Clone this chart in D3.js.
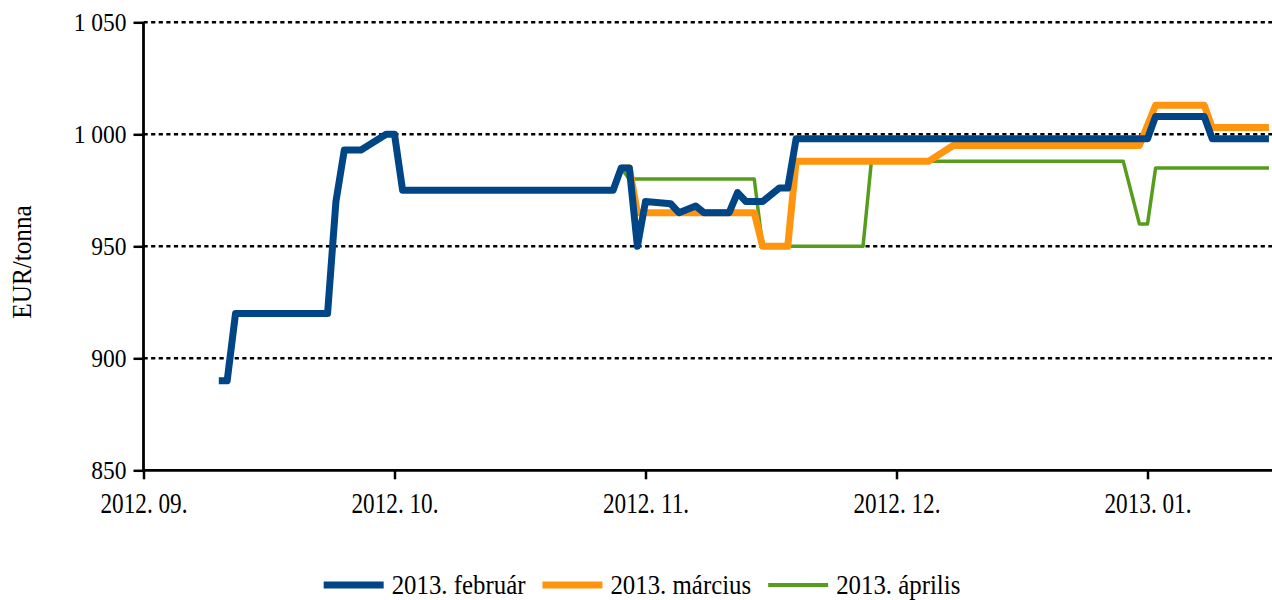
<!DOCTYPE html>
<html>
<head>
<meta charset="utf-8">
<script src="https://cdn.jsdelivr.net/npm/d3@7"></script>
<style>
  html, body { margin: 0; padding: 0; background: #fff; }
  svg { display: block; }
  text { font-family: "Liberation Serif", "Times New Roman", serif; fill: #000; }
</style>
</head>
<body>
<svg id="chart" width="1272" height="600"></svg>
<script>
// Price quotes (EUR/tonna) for three delivery months, by trading date
const febDates = ["2012-09-10","2012-09-11","2012-09-12","2012-09-23","2012-09-24","2012-09-25","2012-09-27","2012-09-30","2012-10-01","2012-10-02","2012-10-28","2012-10-29","2012-10-30","2012-10-31","2012-11-01","2012-11-04","2012-11-05","2012-11-07","2012-11-08","2012-11-11","2012-11-12","2012-11-13","2012-11-15","2012-11-17","2012-11-18","2012-11-19","2013-01-01","2013-01-02","2013-01-08","2013-01-09","2013-01-16"];
const febValues = [890,890,920,920,970,993,993,1000,1000,975,975,985,985,950,970,969,965,968,965,965,974,970,970,976,976,998,998,1008,1008,998,998];

const marDates = ["2012-10-29","2012-10-30","2012-10-31","2012-11-14","2012-11-15","2012-11-18","2012-11-19","2012-12-05","2012-12-08","2012-12-31","2013-01-02","2013-01-08","2013-01-09","2013-01-16"];
const marValues = [985,985,965,965,950,950,988,988,995,995,1013,1013,1003,1003];

const aprDates = ["2012-10-29","2012-10-30","2012-11-14","2012-11-15","2012-11-27","2012-11-28","2012-12-29","2012-12-31","2013-01-01","2013-01-02","2013-01-16"];
const aprValues = [985,980,980,950,950,988,988,960,960,985,985];

const seriesNames = ["2013. február", "2013. március", "2013. április"];
const seriesColors = ["#004586", "#ff950e", "#579d1c"];
const seriesWidths = [7, 7, 3.5];

const monthTicks = ["2012-09-01","2012-10-01","2012-11-01","2012-12-01","2013-01-01"];
const yTicks = [850, 900, 950, 1000, 1050];
const yTitle = "EUR/tonna";

const parse = d3.timeParse("%Y-%m-%d");
const seriesData = [
  d3.zip(febDates, febValues),
  d3.zip(marDates, marValues),
  d3.zip(aprDates, aprValues)
].map(s => s.map(([d, v]) => ({ date: parse(d), value: v })));

const svg = d3.select("#chart");
const W = 1272, H = 600;
const plot = { left: 143.5, right: 1272, top: 22.3, bottom: 470.3 };

// Each month gets the same width on the time axis
const monthStarts = monthTicks.map(parse).concat([parse("2013-02-01")]);
const monthWidth = 251;
const x = d3.scaleTime()
  .domain(monthStarts)
  .range(monthStarts.map((_, i) => plot.left + i * monthWidth));

const y = d3.scaleLinear().domain([850, 1050]).range([plot.bottom, plot.top]);

const fmtY = d3.formatLocale({ decimal: ",", thousands: " ", grouping: [3], currency: ["", ""] }).format(",d");
const fmtX = d3.timeFormat("%Y. %m.");

// Narrow the serif type horizontally around its anchor point
function condense(sel, sx) {
  sel.each(function () {
    const t = d3.select(this);
    const x0 = +t.attr("x") || 0;
    t.attr("x", 0).attr("transform", `translate(${x0},0) scale(${sx},1)`);
  });
}

svg.append("rect").attr("width", W).attr("height", H).attr("fill", "#fff");

// Horizontal dotted gridlines
svg.append("g")
  .selectAll("line")
  .data(yTicks.filter(t => t !== 850))
  .join("line")
  .attr("x1", plot.left)
  .attr("x2", plot.right)
  .attr("y1", d => y(d))
  .attr("y2", d => y(d))
  .attr("stroke", "#000")
  .attr("stroke-width", 2.6)
  .attr("stroke-dasharray", "4.2,3.4");

// Series lines, clipped to the plot area
svg.append("clipPath").attr("id", "plotclip")
  .append("rect")
  .attr("x", plot.left).attr("y", 0)
  .attr("width", plot.right - plot.left).attr("height", plot.bottom);

const line = d3.line().x(d => x(d.date)).y(d => y(d.value));
const drawOrder = [2, 1, 0];
svg.append("g").attr("clip-path", "url(#plotclip)")
  .selectAll("path")
  .data(drawOrder)
  .join("path")
  .attr("d", i => line(seriesData[i]))
  .attr("fill", "none")
  .attr("stroke", i => seriesColors[i])
  .attr("stroke-width", i => seriesWidths[i])
  .attr("stroke-linejoin", "round")
  .attr("stroke-linecap", "butt");

// Y axis
const yAxis = svg.append("g")
  .attr("transform", `translate(${plot.left},0)`)
  .call(d3.axisLeft(y).tickValues(yTicks).tickFormat(fmtY).tickSize(10).tickPadding(7));
yAxis.select(".domain").attr("stroke", "#000").attr("stroke-width", 2.8).attr("d", `M0,${plot.top}V${plot.bottom}`);
yAxis.selectAll(".tick line").attr("stroke", "#000").attr("stroke-width", 2.5);
yAxis.selectAll(".tick text").attr("font-size", 25).attr("dy", "0.33em").call(condense, 0.94);

// X axis
const xAxis = svg.append("g")
  .attr("transform", `translate(0,${plot.bottom})`)
  .call(d3.axisBottom(x).tickValues(monthTicks.map(parse)).tickFormat(fmtX).tickSize(9).tickPadding(12));
xAxis.select(".domain").attr("stroke", "#000").attr("stroke-width", 2.8).attr("d", `M${plot.left},0H${plot.right}`);
xAxis.selectAll(".tick line").attr("stroke", "#000").attr("stroke-width", 2.5);
xAxis.selectAll(".tick text").attr("font-size", 29).attr("dy", 0).attr("y", 43).call(condense, 0.8);

// Y axis title
svg.append("text")
  .attr("transform", `translate(31,262) rotate(-90) scale(0.9,1)`)
  .attr("text-anchor", "middle")
  .attr("font-size", 28)
  .text(yTitle);

// Legend
const legend = svg.append("g").attr("transform", "translate(0,585)");
const items = legend.selectAll("g").data(seriesNames).join("g");
items.append("line")
  .attr("x1", 0).attr("x2", 60).attr("y1", 0).attr("y2", 0)
  .attr("stroke", (d, i) => seriesColors[i])
  .attr("stroke-width", (d, i) => seriesWidths[i] === 7 ? 7 : 4);
const legendScale = 0.92;
items.append("text")
  .attr("font-size", 27)
  .attr("transform", `translate(68,8.5) scale(${legendScale},1)`)
  .text(d => d);
const widths = [];
items.each(function () {
  const tw = d3.select(this).select("text").node().getComputedTextLength() * legendScale;
  widths.push(68 + tw);
});
const gap = 17;
const total = d3.sum(widths) + gap * (widths.length - 1);
let cx = 642 - total / 2;
items.attr("transform", (d, i) => {
  const t = `translate(${cx},0)`;
  cx += widths[i] + gap;
  return t;
});
</script>
</body>
</html>
